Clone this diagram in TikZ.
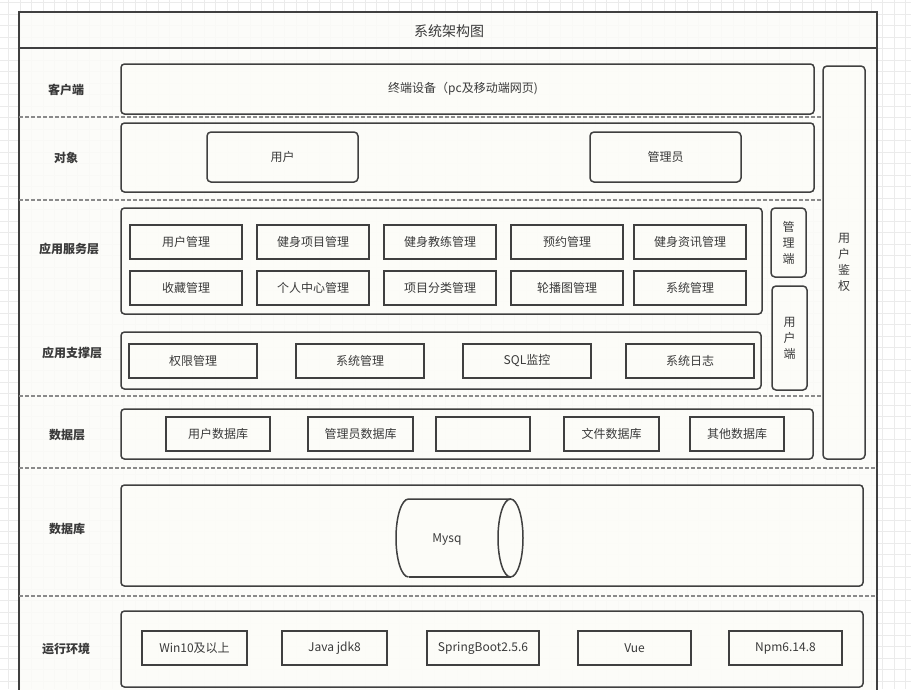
\documentclass[tikz,border=0pt]{standalone}
\usepackage{fontspec}
\setmainfont{Noto Sans CJK SC}
\definecolor{linec}{HTML}{404040}
\definecolor{dashc}{HTML}{8A8A8A}
\definecolor{boxfill}{HTML}{FCFCF8}
\definecolor{gridc}{HTML}{EBEBEB}
\definecolor{txt}{HTML}{3A3A3A}
\tikzset{
  cont/.style={draw=linec, line width=1.5pt, rounded corners=3.5pt, fill=boxfill, fill opacity=0.85, text opacity=1, inner sep=0pt, outer sep=0pt},
  sq/.style={draw=linec, line width=1.5pt, fill=boxfill, fill opacity=0.85, text opacity=1, text=txt, font=\fontsize{12}{14}\selectfont, inner sep=0pt, outer sep=0pt},
  rbox/.style={sq, rounded corners=4pt},
  vbox/.style={rbox, align=center, font=\fontsize{12}{16}\selectfont},
  lab/.style={text=txt, font=\bfseries\fontsize{12}{14}\selectfont},
  sep/.style={draw=dashc, line width=1.2pt, dash pattern=on 4pt off 2pt},
  gridline/.style={draw=gridc, line width=0.8pt},
  cylline/.style={draw=linec, line width=1.5pt},
}
\begin{document}
\begin{tikzpicture}[x=1pt,y=-1pt]
\useasboundingbox (0,0) rectangle (911,689);
% background grid
\foreach \i in {0,...,79} \draw[gridline] ({8.7+11.5*\i},0) -- ({8.7+11.5*\i},689);
\foreach \j in {0,...,60} \draw[gridline] (0,{2.7+11.5*\j}) -- (911,{2.7+11.5*\j});
% outer frame
\node[cont, rounded corners=0pt, line width=1.8pt, minimum width=858, minimum height=683] (frame) at (448,353.5) {};
\coordinate (tl) at (19,48);
\coordinate (tr) at (877,48);
\draw[draw=linec, line width=1.8pt] (tl) -- (tr);
\node[text=txt, font=\fontsize{14}{16}\selectfont] (title) at (449,31) {系统架构图};
% separators
\coordinate (s1a) at (19,117); \coordinate (s1b) at (822,117);
\coordinate (s2a) at (19,200); \coordinate (s2b) at (822,200);
\coordinate (s3a) at (19,396); \coordinate (s3b) at (822,396);
\coordinate (s4a) at (19,468); \coordinate (s4b) at (877,468);
\coordinate (s5a) at (19,596); \coordinate (s5b) at (877,596);
\draw[sep] (s1a) -- (s1b);
\draw[sep] (s2a) -- (s2b);
\draw[sep] (s3a) -- (s3b);
\draw[sep] (s4a) -- (s4b);
\draw[sep] (s5a) -- (s5b);
% left labels
\node[lab] (l1) at (66,90) {客户端};
\node[lab] (l2) at (66,158) {对象};
\node[lab] (l3) at (69,249) {应用服务层};
\node[lab] (l4) at (72,353) {应用支撑层};
\node[lab] (l5) at (67,435) {数据层};
\node[lab] (l6) at (67,529) {数据库};
\node[lab] (l7) at (66,649) {运行环境};
% client
\node[cont, minimum width=693, minimum height=50] (client) at (467.5,89) {};
\node[text=txt, font=\fontsize{12}{14}\selectfont] (clientt) at (463,89) {终端设备（pc及移动端网页)};
% objects
\node[cont, minimum width=693, minimum height=69] (obj) at (467.5,157.5) {};
\node[rbox, minimum width=151, minimum height=50] (user) at (282.5,157) {用户};
\node[rbox, minimum width=151, minimum height=50] (admin) at (665.5,157) {管理员};
% user auth
\node[vbox, minimum width=42, minimum height=393] (auth) at (844,262.5) {用\\户\\鉴\\权};
% app service
\node[cont, minimum width=641, minimum height=106] (svc) at (441.5,261) {};
\node[sq, minimum width=112, minimum height=34] (a1) at (186,242) {用户管理};
\node[sq, minimum width=112, minimum height=34] (a2) at (313,242) {健身项目管理};
\node[sq, minimum width=112, minimum height=34] (a3) at (440,242) {健身教练管理};
\node[sq, minimum width=112, minimum height=34] (a4) at (567,242) {预约管理};
\node[sq, minimum width=112, minimum height=34] (a5) at (690,242) {健身资讯管理};
\node[sq, minimum width=112, minimum height=34] (b1) at (186,288) {收藏管理};
\node[sq, minimum width=112, minimum height=34] (b2) at (313,288) {个人中心管理};
\node[sq, minimum width=112, minimum height=34] (b3) at (440,288) {项目分类管理};
\node[sq, minimum width=112, minimum height=34] (b4) at (567,288) {轮播图管理};
\node[sq, minimum width=112, minimum height=34] (b5) at (690,288) {系统管理};
\node[vbox, minimum width=35, minimum height=69] (mgr) at (788.5,242.5) {管\\理\\端};
\node[vbox, minimum width=35, minimum height=104] (uend) at (789.5,338) {用\\户\\端};
% app support
\node[cont, minimum width=640, minimum height=57] (sup) at (441,360.5) {};
\node[sq, minimum width=128, minimum height=34] (c1) at (193,361) {权限管理};
\node[sq, minimum width=128, minimum height=34] (c2) at (360,361) {系统管理};
\node[sq, minimum width=128, minimum height=34] (c3) at (527,361) {SQL监控};
\node[sq, minimum width=128, minimum height=34] (c4) at (690,361) {系统日志};
% data layer
\node[cont, minimum width=692, minimum height=50] (data) at (467,434) {};
\node[sq, minimum width=104, minimum height=34] (d1) at (218,434) {用户数据库};
\node[sq, minimum width=105, minimum height=34] (d2) at (360.5,434) {管理员数据库};
\node[sq, minimum width=94, minimum height=34] (d3) at (483,434) {};
\node[sq, minimum width=95, minimum height=34] (d4) at (611.5,434) {文件数据库};
\node[sq, minimum width=94, minimum height=34] (d5) at (737,434) {其他数据库};
% database
\node[cont, minimum width=742, minimum height=101] (db) at (492,535.5) {};
\coordinate (cyb) at (408.5,577);
\coordinate (cyt) at (408.5,499);
\coordinate (cyr) at (510.5,538);
\fill[boxfill] (cyb) arc[start angle=90, end angle=270, x radius=12.5, y radius=39] -- (510.5,499) -- (510.5,577) -- cycle;
\draw[cylline] (cyb) arc[start angle=90, end angle=270, x radius=12.5, y radius=39] -- (510.5,499);
\draw[cylline] (cyb) -- (510.5,577);
\draw[cylline] (cyr) ellipse [x radius=12.5, y radius=39];
\node[text=txt, font=\fontsize{12}{14}\selectfont] (mysql) at (447,539) {Mysq};
% runtime
\node[cont, minimum width=742, minimum height=76] (run) at (492,649) {};
\node[sq, minimum width=105, minimum height=34] (e1) at (194.5,648) {Win10及以上};
\node[sq, minimum width=105, minimum height=34] (e2) at (334.5,648) {Java jdk8};
\node[sq, minimum width=112, minimum height=34] (e3) at (483,648) {SpringBoot2.5.6};
\node[sq, minimum width=113, minimum height=34] (e4) at (634.5,648) {Vue};
\node[sq, minimum width=113, minimum height=34] (e5) at (785.5,648) {Npm6.14.8};
\end{tikzpicture}
\end{document}
